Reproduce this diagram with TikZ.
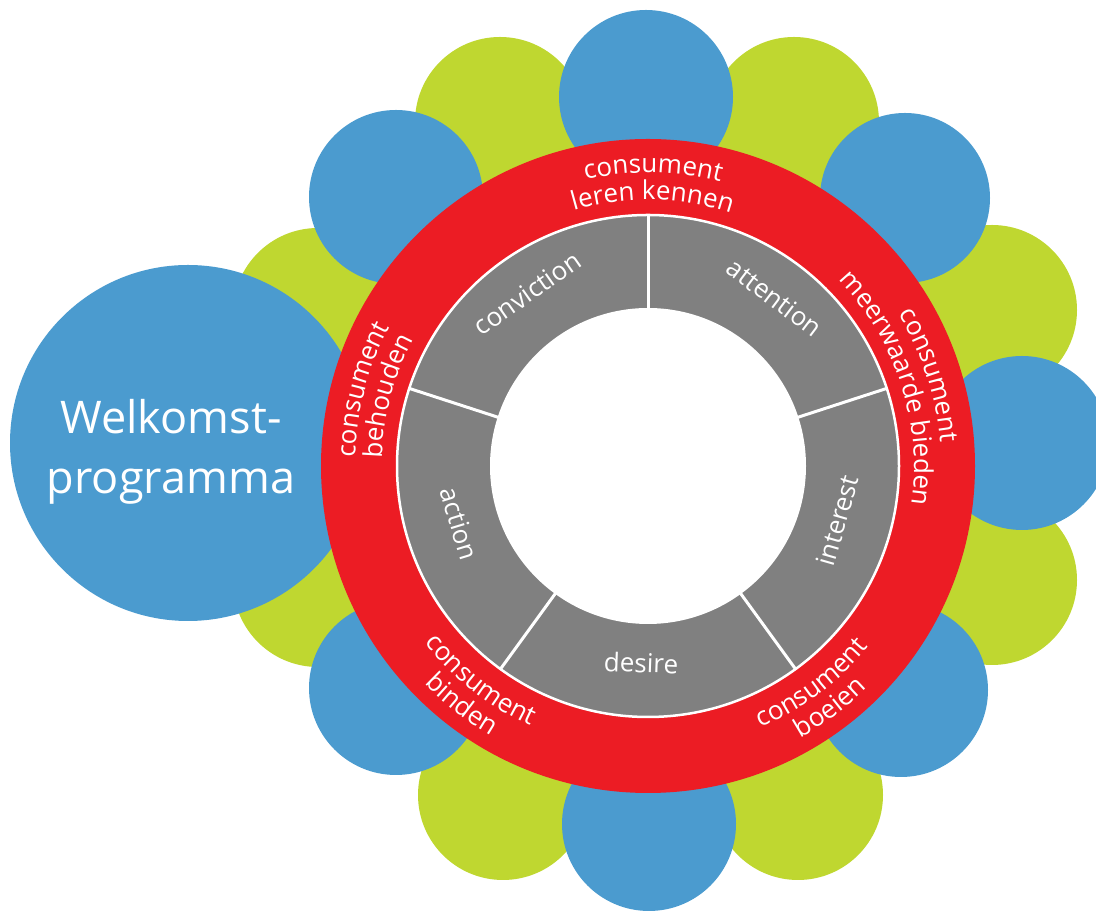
\documentclass[tikz,border=0pt]{standalone}
\usepackage{fontspec}
\setmainfont{Open Sans}
\usetikzlibrary{decorations.text}
\definecolor{petalblue}{RGB}{75,155,207}
\definecolor{petalgreen}{RGB}{191,215,48}
\definecolor{ringred}{RGB}{236,28,36}
\definecolor{seggray}{RGB}{128,128,128}
\newcommand\ringfont{\fontsize{26}{26}\selectfont}
\newcommand\segfont{\fontsize{26}{26}\selectfont}
\newcommand\welkfont{\fontsize{45}{60}\selectfont}
\tikzset{
  greenpetal/.style={fill=petalgreen},
  bluepetal/.style={fill=petalblue},
  seglabel/.style={text=white, font=\segfont, anchor=mid, inner sep=0pt},
  ringtext/.style={decorate, decoration={text along path, text align=center, text color=white}},
}
\begin{document}
\begin{tikzpicture}[x=1pt,y=1pt]
\useasboundingbox (0,0) rectangle (1096,912);
\clip (0,0) rectangle (1096,912);
\coordinate (c) at (648,446);
% green petals
\fill[greenpetal] (500,790) circle[radius=85pt];
\fill[greenpetal] (794,790) circle[radius=85pt];
\fill[greenpetal] (992,602) circle[radius=85pt];
\fill[greenpetal] (992,332) circle[radius=85pt];
\fill[greenpetal] (798,117) circle[radius=85pt];
\fill[greenpetal] (503,117) circle[radius=85pt];
\fill[greenpetal] (318,330) circle[radius=85pt];
\fill[greenpetal] (318,599) circle[radius=85pt];
% blue petals
\fill[bluepetal] (646,815) circle[radius=87pt];
\fill[bluepetal] (905,714) circle[radius=85pt];
\fill[bluepetal] (1022,469) circle[radius=87pt];
\fill[bluepetal] (901,222) circle[radius=87pt];
\fill[bluepetal] (649,88) circle[radius=87pt];
\fill[bluepetal] (396,224) circle[radius=87pt];
\fill[bluepetal] (396,715) circle[radius=87pt];
% big welcome circle
\fill[bluepetal] (188,469) circle[radius=178pt];
\node[text=white, font=\welkfont, align=center] (welkom) at (171,460) {Welkomst-\\programma};
% rings
\fill[ringred] (c) circle[radius=327pt];
\filldraw[fill=seggray, draw=white, line width=2.5pt] (c) circle[radius=251pt];
\fill[white] (c) circle[radius=158pt];
\foreach \a in {18,90,162,234,306}
  \draw[white, line width=3pt] (c) ++(\a:155pt) -- ++(\a:97pt);
% segment labels
\node[seglabel, rotate=35] (conviction) at ([shift={(125:204pt)}]c) {conviction};
\node[seglabel, rotate=-37] (attention) at ([shift={(53:204pt)}]c) {attention};
\node[seglabel, rotate=74] (interest) at ([shift={(344:204pt)}]c) {interest};
\node[seglabel, rotate=-2] (desire) at ([shift={(268:204pt)}]c) {desire};
\node[seglabel, rotate=-73] (action) at ([shift={(197:204pt)}]c) {action};
% ring labels (outer side, reading clockwise)
\path[ringtext, decoration={text={|\ringfont|consument}}] (c) ++(149:293pt) arc[start angle=149, end angle=29, radius=293pt];
\path[ringtext, decoration={text={|\ringfont|leren kennen}}] (c) ++(149:266pt) arc[start angle=149, end angle=29, radius=266pt];
\path[ringtext, decoration={text={|\ringfont|consument}}] (c) ++(78:293pt) arc[start angle=78, end angle=-42, radius=293pt];
\path[ringtext, decoration={text={|\ringfont|meerwaarde bieden}}] (c) ++(78:266pt) arc[start angle=78, end angle=-42, radius=266pt];
\path[ringtext, decoration={text={|\ringfont|consument}}] (c) ++(225:293pt) arc[start angle=225, end angle=105, radius=293pt];
\path[ringtext, decoration={text={|\ringfont|behouden}}] (c) ++(225:266pt) arc[start angle=225, end angle=105, radius=266pt];
% ring labels (lower side, reading counter-clockwise)
\path[ringtext, decoration={text={|\ringfont|consument}}] (c) ++(172:285pt) arc[start angle=172, end angle=292, radius=285pt];
\path[ringtext, decoration={text={|\ringfont|binden}}] (c) ++(172:312pt) arc[start angle=172, end angle=292, radius=312pt];
\path[ringtext, decoration={text={|\ringfont|consument}}] (c) ++(247:285pt) arc[start angle=247, end angle=367, radius=285pt];
\path[ringtext, decoration={text={|\ringfont|boeien}}] (c) ++(247:312pt) arc[start angle=247, end angle=367, radius=312pt];
\end{tikzpicture}
\end{document}
